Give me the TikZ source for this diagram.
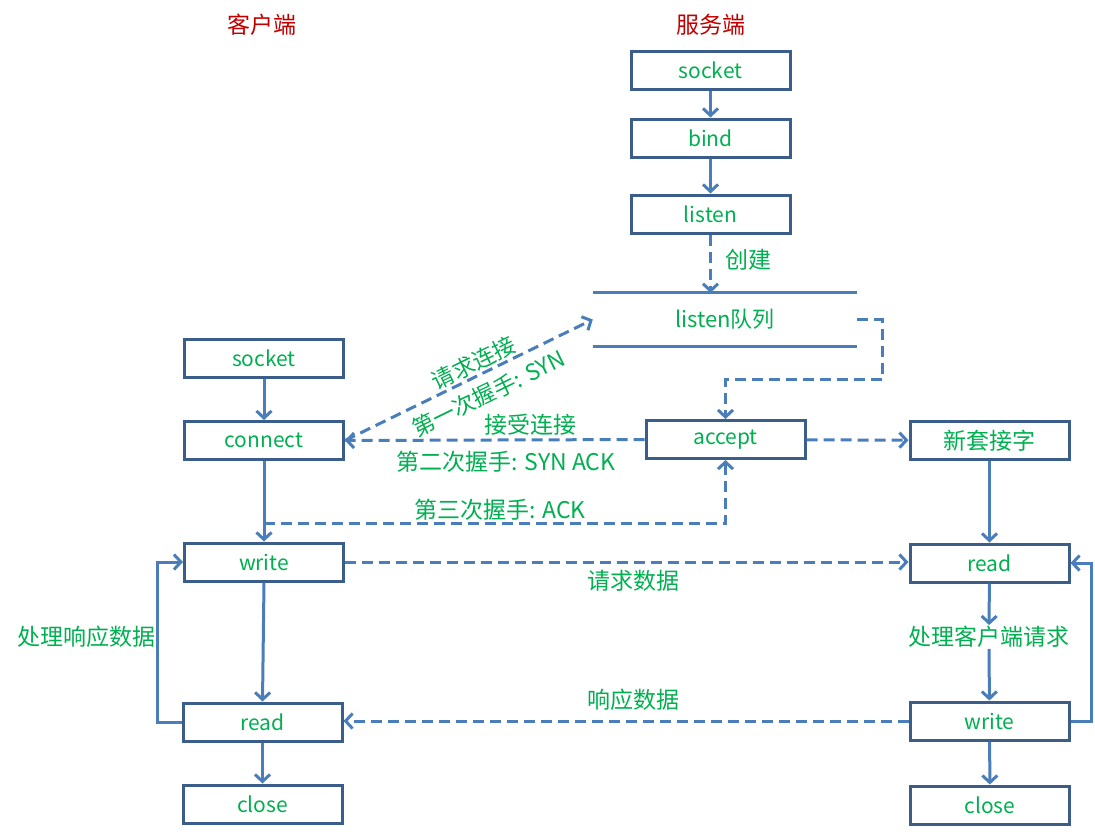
\documentclass[tikz,border=0pt]{standalone}
\usepackage{fontspec}
\setmainfont{Noto Sans CJK SC}
\usetikzlibrary{arrows.meta,calc}
\definecolor{boxc}{HTML}{3B5D8A}
\definecolor{linec}{HTML}{4A7EBB}
\definecolor{txtc}{HTML}{00B050}
\definecolor{ttl}{HTML}{C00000}
\begin{document}
\begin{tikzpicture}[x=1pt,y=-1pt,
  box/.style={draw=boxc,line width=3pt,minimum width=159pt,minimum height=38pt,inner sep=0pt,text=txtc,font=\fontsize{21}{24}\selectfont},
  lbl/.style={text=txtc,font=\fontsize{23}{26}\selectfont,inner sep=1pt},
  con/.style={draw=linec,line width=3pt,-{Straight Barb[length=7pt,width=15pt]}},
  dsh/.style={con,dash pattern=on 11pt off 6pt}]
\useasboundingbox (0,0) rectangle (1095,831);
\node[lbl,text=ttl] (tc) at (262,25) {客户端};
\node[lbl,text=ttl] (ts) at (711,25) {服务端};
\node[box] (ssock) at (710.5,70) {socket};
\node[box] (sbind) at (710.5,138) {bind};
\node[box] (slisten) at (710.5,214) {listen};
\node[lbl,minimum width=264pt,minimum height=53pt,inner sep=0pt,font=\fontsize{22}{24}\selectfont] (q) at (725,319.5) {listen队列};
\draw[linec,line width=3pt] (q.north west) -- (q.north east) (q.south west) -- (q.south east);
\node[lbl] (create) at (748,260) {创建};
\node[box] (csock) at (264,358) {socket};
\node[box] (conn) at (264,440.5) {connect};
\node[box] (acc) at (725.5,439.5) {accept};
\node[box,font=\fontsize{23}{24}\selectfont] (news) at (989.5,440.5) {新套接字};
\node[box] (cw) at (264,562) {write};
\node[box] (sr) at (989.5,563) {read};
\node[box] (cr) at (262.5,722) {read};
\node[box] (sw) at (989.5,721) {write};
\node[box] (cc) at (262.5,804) {close};
\node[box] (sc) at (990,805) {close};
\node[lbl] (proc) at (989,637) {处理客户端请求};
\node[lbl] (procr) at (86,637) {处理响应数据};
\node[lbl,rotate=26,align=center,font=\fontsize{22.5}{34}\selectfont] (l1) at (481,378) {请求连接\\第一次握手: SYN};
\node[lbl] (l3) at (530,425) {接受连接};
\node[lbl] (l4) at (506,462) {第二次握手: SYN ACK};
\node[lbl] (l5) at (500,510) {第三次握手: ACK};
\node[lbl] (l6) at (633,581) {请求数据};
\node[lbl] (l7) at (633,700) {响应数据};
\draw[con] (ssock) -- (sbind);
\draw[con] (sbind) -- (slisten);
\draw[dsh] (slisten) -- (slisten |- q.north);
\draw[dsh] (q.east) -- ++(25,0) |- ($(acc.north)+(0,-40)$) -- (acc.north);
\draw[con] (csock) -- (conn);
\draw[dsh] (conn.east) -- (q.west);
\draw[dsh] (acc.west) -- (conn.east);
\draw[con] (conn) -- (cw);
\coordinate (h3) at ($(conn.south)!0.78!(cw.north)$);
\draw[dsh] (h3) -| (acc.south);
\draw[dsh] (acc) -- (news);
\draw[con] (news) -- (sr);
\draw[dsh] (cw.east) -- (cw.east -| sr.west);
\draw[con] (sr) -- (proc);
\draw[con] (proc) -- (sw);
\draw[dsh] (sw.west) -- (sw.west -| cr.east);
\draw[con] (cw.south) -- (cr.north);
\draw[con] (cr.west) -- ++(-24,0) |- (cw.west);
\draw[con] (sw.east) -- ++(21,0) |- (sr.east);
\draw[con] (cr) -- (cc);
\draw[con] (sw) -- (sc);
\end{tikzpicture}
\end{document}
